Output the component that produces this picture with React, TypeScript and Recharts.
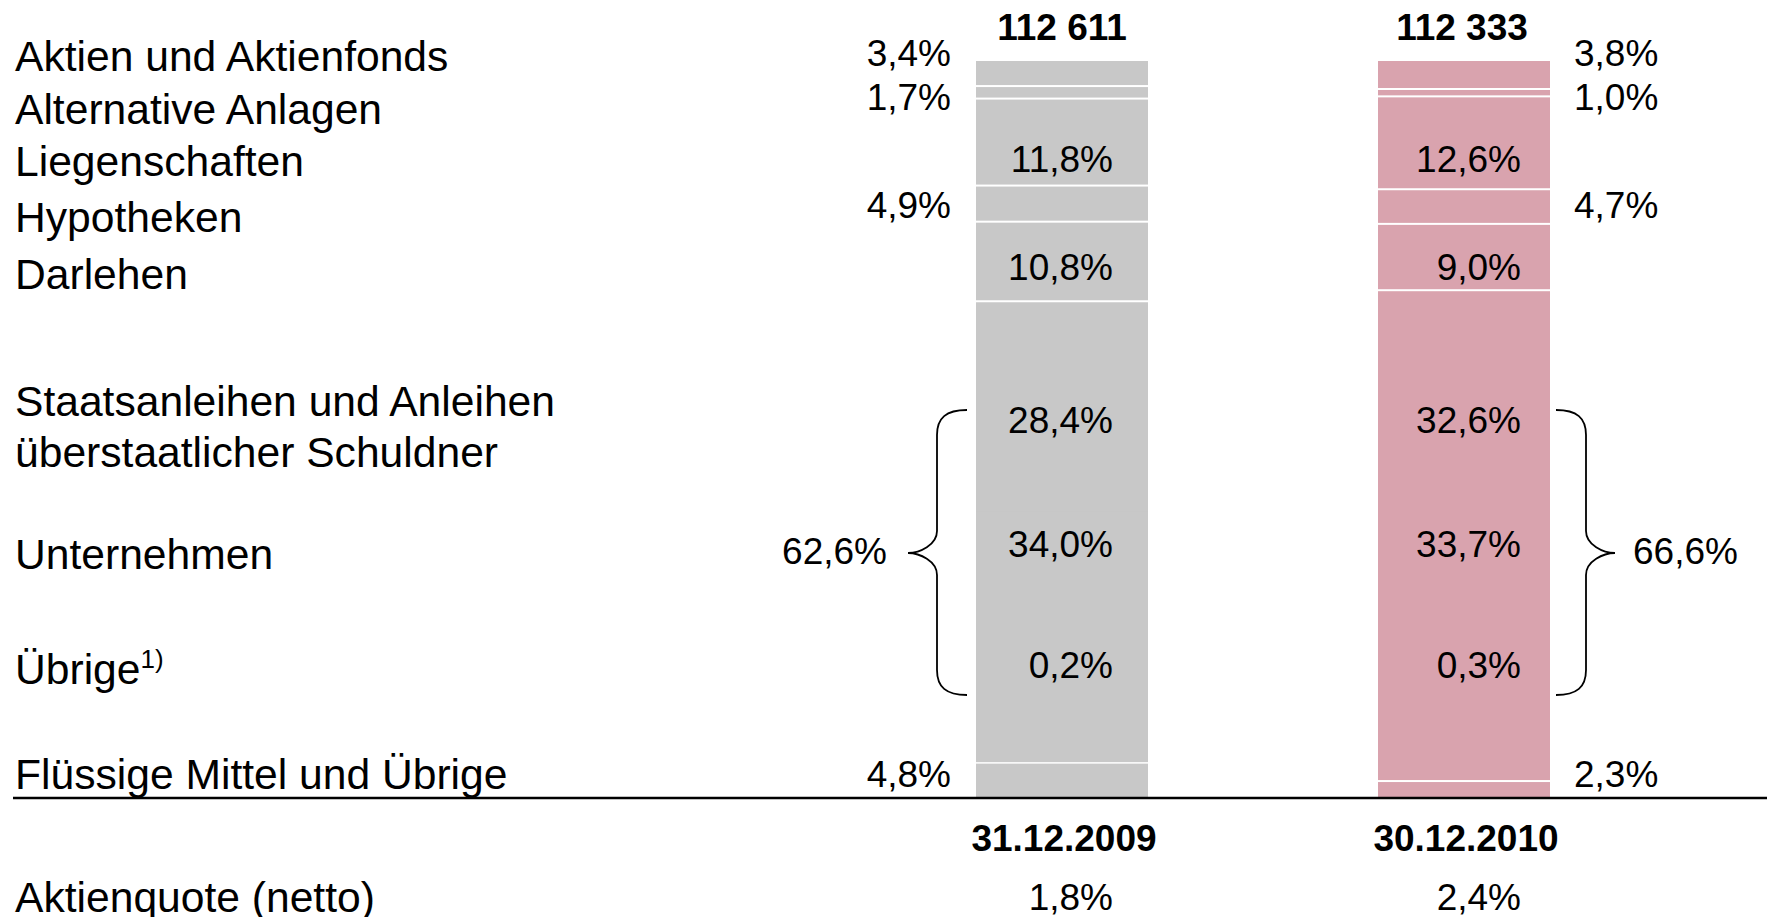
import { BarChart, Bar, XAxis, YAxis, LabelList, Cell } from 'recharts';

// Anlagen nach Kategorie, Anteil in % (31.12.2009 / 30.12.2010)
const DATES = ['31.12.2009', '30.12.2010'];
const TOTALS = [112611, 112333];
const AKTIEN = [3.4, 3.8];
const ALTERNATIVE = [1.7, 1.0];
const LIEGENSCHAFTEN = [11.8, 12.6];
const HYPOTHEKEN = [4.9, 4.7];
const DARLEHEN = [10.8, 9.0];
const STAATSANLEIHEN = [28.4, 32.6];
const UNTERNEHMEN = [34.0, 33.7];
const UEBRIGE_ANLEIHEN = [0.2, 0.3];
const FLUESSIG = [4.8, 2.3];
const ANLEIHEN_TOTAL = [62.6, 66.6];
const AKTIENQUOTE = [1.8, 2.4];

const ROW_LABELS = [
  'Aktien und Aktienfonds',
  'Alternative Anlagen',
  'Liegenschaften',
  'Hypotheken',
  'Darlehen',
  'Staatsanleihen und Anleihen',
  'überstaatlicher Schuldner',
  'Unternehmen',
  'Übrige',
  'Flüssige Mittel und Übrige',
  'Aktienquote (netto)',
];

// layout
const W = 1767;
const H = 917;
const PLOT_TOP = 61;
const PLOT_BOTTOM = 798;
const PLOT_LEFT = 861;
const BAND = 402;
const BAR_SIZE = 172;
const BAR_COLORS = ['#C8C8C8', '#D9A3AE'];
const FONT = "'Liberation Sans', Arial, sans-serif";
const ROW_FONT = 42.6;
const PCT_FONT = 37;
const ROW_BASELINE = [71, 124, 176, 232, 289, 416, 467, 569, 684, 789, 912];
const INNER_PAD = [35, 29];
const OUTER_GAP = 25;

const fmtPct = (v: number) => `${v.toFixed(1).replace('.', ',')}%`;
const fmtTotal = (v: number) => String(v).replace(/\B(?=(\d{3})+(?!\d))/g, ' ');

const chartData = DATES.map((date, i) => ({
  date,
  total: TOTALS[i],
  aktien: AKTIEN[i],
  alternative: ALTERNATIVE[i],
  liegenschaften: LIEGENSCHAFTEN[i],
  hypotheken: HYPOTHEKEN[i],
  darlehen: DARLEHEN[i],
  staatsanleihen: STAATSANLEIHEN[i],
  unternehmen: UNTERNEHMEN[i],
  uebrige: UEBRIGE_ANLEIHEN[i],
  fluessig: FLUESSIG[i],
}));

// stacked bottom to top; sep = white line under the segment
const SERIES = [
  { key: 'fluessig', outside: true, sep: false, labelY: 787 },
  { key: 'uebrige', outside: false, sep: true, labelY: 678 },
  { key: 'unternehmen', outside: false, sep: false, labelY: 557 },
  { key: 'staatsanleihen', outside: false, sep: false, labelY: 433 },
  { key: 'darlehen', outside: false, sep: true, labelY: 280 },
  { key: 'hypotheken', outside: true, sep: true, labelY: 218 },
  { key: 'liegenschaften', outside: false, sep: true, labelY: 172 },
  { key: 'alternative', outside: true, sep: true, labelY: 110 },
  { key: 'aktien', outside: true, sep: true, labelY: 66 },
];

// segments overlap by 1px so no seams show inside merged blocks
const segmentShape = (sep: boolean) => (props: any) => {
  const { x, y, width, height, fill } = props;
  return (
    <g>
      <rect x={x} y={y} width={width} height={height + 1} fill={fill} />
      {sep && <rect x={x} y={y + height - 1} width={width} height={2} fill="#fff" />}
    </g>
  );
};

const geom = (props: any) => {
  const vb = props.viewBox ?? {};
  return {
    x: props.x ?? vb.x,
    y: props.y ?? vb.y,
    width: props.width ?? vb.width,
  };
};

const segmentLabel = (outside: boolean, labelY: number) => (props: any) => {
  const { x, width } = geom(props);
  const { value, index } = props;
  if (value == null) return null;
  let tx = x + width - INNER_PAD[index];
  let anchor: 'start' | 'end' = 'end';
  if (outside) {
    if (index === 0) {
      tx = x - OUTER_GAP;
    } else {
      tx = x + width + OUTER_GAP - 1;
      anchor = 'start';
    }
  }
  return (
    <text x={tx} y={labelY} textAnchor={anchor} fontSize={PCT_FONT} fontFamily={FONT} fill="#000">
      {fmtPct(value)}
    </text>
  );
};

const totalLabel = (props: any) => {
  const { x, y, width } = geom(props);
  const { index } = props;
  return (
    <text x={x + width / 2 - 2 * index} y={y - 21} textAnchor="middle" fontSize={PCT_FONT} fontWeight="bold" fontFamily={FONT} fill="#000">
      {fmtTotal(TOTALS[index])}
    </text>
  );
};

const DateTick = (props: any) => {
  const { x, y, payload } = props;
  const i = payload.index ?? DATES.indexOf(payload.value);
  return (
    <g>
      <text x={x + 2} y={y + 53} textAnchor="middle" fontSize={PCT_FONT} fontWeight="bold" fontFamily={FONT} fill="#000">
        {payload.value}
      </text>
      <text x={x + BAR_SIZE / 2 - INNER_PAD[i]} y={y + 112} textAnchor="end" fontSize={PCT_FONT} fontFamily={FONT} fill="#000">
        {fmtPct(AKTIENQUOTE[i])}
      </text>
    </g>
  );
};

// curly brace from tip (at bar) via spine to point (at label)
function bracePath(tip: number, spine: number, point: number, top: number, mid: number, bottom: number) {
  const a = spine + (tip - spine) * 0.3;
  const b = point + (spine - point) * 0.4;
  return [
    `M ${tip} ${top}`,
    `C ${a} ${top}, ${spine} ${top + 8}, ${spine} ${top + 25}`,
    `L ${spine} ${mid - 22}`,
    `C ${spine} ${mid - 8}, ${b} ${mid}, ${point} ${mid}`,
    `C ${b} ${mid}, ${spine} ${mid + 8}, ${spine} ${mid + 22}`,
    `L ${spine} ${bottom - 25}`,
    `C ${spine} ${bottom - 8}, ${a} ${bottom}, ${tip} ${bottom}`,
  ].join(' ');
}

function Overlay() {
  const bar1Left = PLOT_LEFT + BAND / 2 - BAR_SIZE / 2;
  const bar2Right = PLOT_LEFT + BAND * 1.5 + BAR_SIZE / 2;
  const top = 410;
  const bottom = 695;
  const mid = 553;
  return (
    <svg width={W} height={H} style={{ position: 'absolute', left: 0, top: 0, pointerEvents: 'none' }}>
      {ROW_LABELS.map((label, i) => (
        <text key={label} x={15} y={ROW_BASELINE[i]} fontSize={ROW_FONT} fontFamily={FONT} fill="#000">
          {label}
          {label === 'Übrige' && (
            <tspan fontSize={26} dy={-16}>1)</tspan>
          )}
        </text>
      ))}
      <line x1={13} x2={W} y1={PLOT_BOTTOM} y2={PLOT_BOTTOM} stroke="#000" strokeWidth={2.6} />
      <path d={bracePath(bar1Left - 9, bar1Left - 39, bar1Left - 68, top, mid, bottom)} fill="none" stroke="#000" strokeWidth={1.8} />
      <path d={bracePath(bar2Right + 6, bar2Right + 36, bar2Right + 65, top, mid, bottom)} fill="none" stroke="#000" strokeWidth={1.8} />
      <text x={bar1Left - 89} y={564} textAnchor="end" fontSize={PCT_FONT} fontFamily={FONT} fill="#000">
        {fmtPct(ANLEIHEN_TOTAL[0])}
      </text>
      <text x={bar2Right + 83} y={564} textAnchor="start" fontSize={PCT_FONT} fontFamily={FONT} fill="#000">
        {fmtPct(ANLEIHEN_TOTAL[1])}
      </text>
    </svg>
  );
}

export default function App() {
  return (
    <div style={{ position: 'absolute', left: 0, top: 0, width: W, height: H, background: '#fff', overflow: 'hidden' }}>
      <BarChart
        width={W}
        height={H}
        data={chartData}
        margin={{ top: PLOT_TOP, right: W - PLOT_LEFT - BAND * 2, bottom: 0, left: PLOT_LEFT }}
        barSize={BAR_SIZE}
      >
        <XAxis
          dataKey="date"
          axisLine={false}
          tickLine={false}
          tickSize={0}
          tickMargin={0}
          height={H - PLOT_BOTTOM}
          interval={0}
          tick={<DateTick />}
        />
        <YAxis hide domain={[0, 100]} />
        {SERIES.map((s) => (
          <Bar
            key={s.key}
            dataKey={s.key}
            stackId="a"
            isAnimationActive={false}
            shape={segmentShape(s.sep)}
          >
            {chartData.map((_, i) => (
              <Cell key={i} fill={BAR_COLORS[i]} />
            ))}
            <LabelList dataKey={s.key} content={segmentLabel(s.outside, s.labelY)} />
            {s.key === 'aktien' && <LabelList dataKey="total" content={totalLabel} />}
          </Bar>
        ))}
      </BarChart>
      <Overlay />
    </div>
  );
}
